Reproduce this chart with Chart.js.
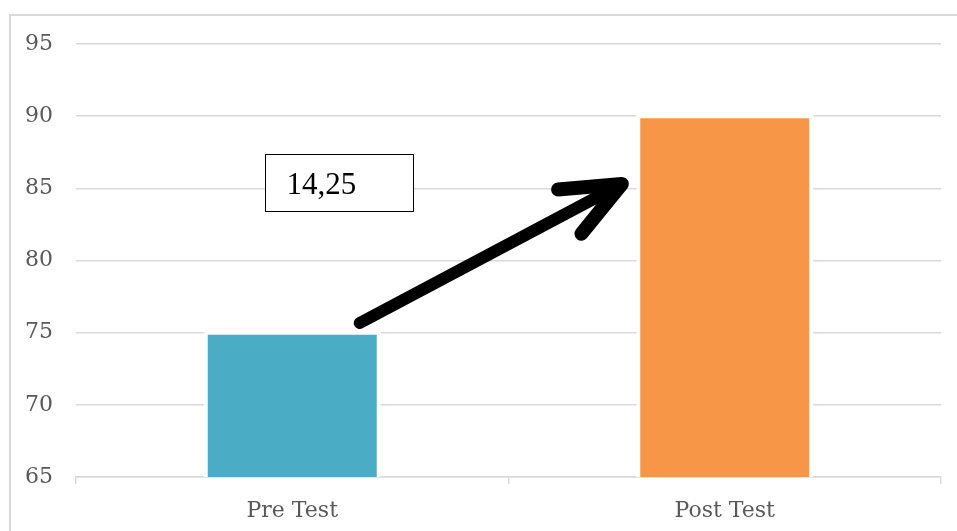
<!DOCTYPE html>
<html><head><meta charset="utf-8">
<script src="https://cdn.jsdelivr.net/npm/chart.js@4"></script>
<style>
html,body{margin:0;padding:0;background:#fff;overflow:hidden}
canvas{display:block}
</style></head><body>
<canvas id="c" width="957" height="531"></canvas>
<script>
const categories = ['Pre Test', 'Post Test'];
const scores = [75, 90];
const barColors = ['#4BACC6', '#F79646'];
const yTicks = [65, 70, 75, 80, 85, 90, 95];
const differenceLabel = '14,25';

// annotation anchors in data space (category index, value)
const arrowFrom = {x: 0.156, y: 75.67};
const arrowTo = {x: 0.762, y: 85.3};
const boxTopLeft = {x: -0.064, y: 87.38};
const boxBottomRight = {x: 0.279, y: 83.43};

const framePlugin = {
  id: 'frame',
  beforeDraw(chart) {
    const {ctx, width, height} = chart;
    ctx.save();
    ctx.fillStyle = '#fff';
    ctx.fillRect(0, 0, width, height);
    ctx.strokeStyle = '#d9d9d9';
    ctx.lineWidth = 2;
    ctx.beginPath();
    ctx.moveTo(10, height + 2);
    ctx.lineTo(10, 15);
    ctx.lineTo(width + 2, 15);
    ctx.stroke();
    ctx.restore();
  },
  afterDraw(chart) {
    const {ctx, width, height} = chart;
    ctx.save();
    ctx.fillStyle = '#fff';
    ctx.fillRect(width - 8, 17, 8, height - 17);
    ctx.restore();
  }
};

const annotationPlugin = {
  id: 'annot',
  afterDatasetsDraw(chart) {
    const {ctx} = chart;
    const xs = chart.scales.x, ys = chart.scales.y;
    const P = p => ({x: xs.getPixelForValue(p.x), y: ys.getPixelForValue(p.y)});
    ctx.save();
    // label box
    const a = P(boxTopLeft), b = P(boxBottomRight);
    const x1 = Math.round(a.x) + 0.5, y1 = Math.round(a.y) + 0.5;
    const x2 = Math.round(b.x) + 0.5, y2 = Math.round(b.y) + 0.5;
    ctx.fillStyle = '#fff';
    ctx.fillRect(x1, y1, x2 - x1, y2 - y1);
    ctx.strokeStyle = '#000';
    ctx.lineWidth = 1;
    ctx.strokeRect(x1, y1, x2 - x1, y2 - y1);
    ctx.fillStyle = '#000';
    ctx.font = '31px "Liberation Serif", "Times New Roman", serif';
    ctx.textBaseline = 'alphabetic';
    ctx.textAlign = 'left';
    ctx.fillText(differenceLabel, x1 + 21, y1 + 39);
    // arrow
    const s = P(arrowFrom), e = P(arrowTo);
    const ang = Math.atan2(e.y - s.y, e.x - s.x);
    const back = ang + Math.PI, spread = 23 * Math.PI / 180, len = 64;
    ctx.strokeStyle = '#000';
    ctx.lineCap = 'round';
    ctx.lineJoin = 'round';
    ctx.lineWidth = 12;
    ctx.beginPath();
    ctx.moveTo(s.x, s.y);
    ctx.lineTo(e.x - 4 * Math.cos(ang), e.y - 4 * Math.sin(ang));
    ctx.stroke();
    ctx.lineWidth = 14;
    ctx.beginPath();
    ctx.moveTo(e.x + len * Math.cos(back - spread), e.y + len * Math.sin(back - spread));
    ctx.lineTo(e.x, e.y);
    ctx.lineTo(e.x + len * Math.cos(back + spread), e.y + len * Math.sin(back + spread));
    ctx.stroke();
    ctx.restore();
  }
};

const labelFont = {family: '"DejaVu Serif", serif', size: 22};

new Chart(document.getElementById('c'), {
  type: 'bar',
  data: {
    labels: categories,
    datasets: [{
      data: scores,
      backgroundColor: barColors,
      borderColor: '#ffffff',
      borderWidth: 4,
      borderSkipped: false,
      inflateAmount: 2,
      categoryPercentage: 0.4,
      barPercentage: 1
    }]
  },
  options: {
    responsive: false,
    animation: false,
    events: [],
    layout: {padding: {top: 44, right: 16, left: 0, bottom: 0}},
    plugins: {legend: {display: false}, tooltip: {enabled: false}},
    scales: {
      x: {
        z: 1,
        grid: {drawOnChartArea: false, drawTicks: true, tickLength: 7, color: '#d9d9d9', lineWidth: 1.5},
        border: {display: true, color: '#d9d9d9', width: 1.5},
        ticks: {font: labelFont, color: '#595959', padding: 14},
        afterFit(scale) { scale.height = 54; }
      },
      y: {
        min: yTicks[0],
        max: yTicks[yTicks.length - 1],
        afterBuildTicks(scale) { scale.ticks = yTicks.map(v => ({value: v})); },
        grid: {drawTicks: false, color: '#d9d9d9', lineWidth: 1.5},
        border: {display: false},
        ticks: {font: labelFont, color: '#595959', padding: 23},
        afterFit(scale) { scale.width = 76; }
      }
    }
  },
  plugins: [framePlugin, annotationPlugin]
});
</script>
</body></html>
